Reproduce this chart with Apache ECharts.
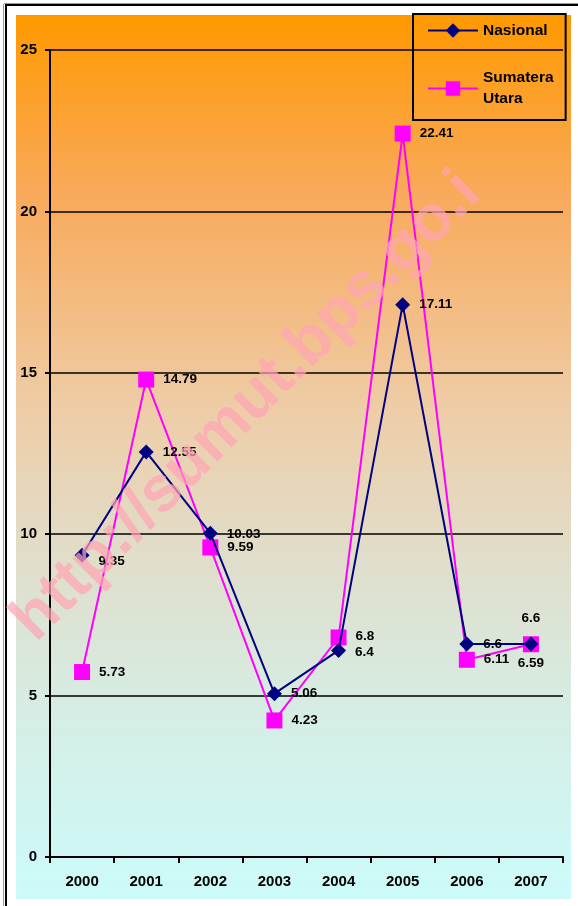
<!DOCTYPE html>
<html>
<head>
<meta charset="utf-8">
<script src="https://cdn.jsdelivr.net/npm/echarts@6/dist/echarts.min.js"></script>
<style>
html,body{margin:0;padding:0;background:#fff;}
#c{width:578px;height:906px;}
</style>
</head>
<body>
<div id="c"></div>
<script>
const categories = ['2000','2001','2002','2003','2004','2005','2006','2007'];
const nasional = [9.35, 12.55, 10.03, 5.06, 6.4, 17.11, 6.6, 6.6];
const sumut = [5.73, 14.79, 9.59, 4.23, 6.8, 22.41, 6.11, 6.59];
const seriesNames = ['Nasional', 'Sumatera Utara'];
const yTicks = [0, 5, 10, 15, 20, 25];

const chart = echarts.init(document.getElementById('c'), null, {renderer: 'canvas'});
const F = 'Liberation Sans, Arial, sans-serif';

const lblBase = {show: true, fontFamily: F, fontWeight: 'bold', fontSize: 13.5, color: '#000', distance: 9};
function natLabel(i) {
  if (i === 7) return {position: 'top', distance: 11};
  if (i === 0) return {position: 'right', offset: [0, 6]};
  if (i === 2) return {position: 'right', offset: [0, 1]};
  if (i === 4) return {position: 'right', offset: [0, 2]};
  return {position: 'right'};
}
function sumLabel(i) {
  if (i === 7) return {position: 'bottom', distance: 4};
  if (i === 4) return {position: 'right', offset: [0, -1]};
  return {position: 'right'};
}

chart.setOption({
  animation: false,
  graphic: [
    {type: 'rect', z: -10, shape: {x: 16, y: 15, width: 555, height: 884},
     style: {fill: new echarts.graphic.LinearGradient(0, 0, 0, 1, [
       {offset: 0, color: '#FF9900'},
       {offset: 0.2, color: '#F9A95A'},
       {offset: 0.45, color: '#EECDA8'},
       {offset: 0.62, color: '#E0DECB'},
       {offset: 0.8, color: '#D5EEE6'},
       {offset: 1, color: '#CCFBFA'}
     ])}},
    {type: 'line', z: -5, shape: {x1: 4, y1: 3.5, x2: 578, y2: 3.5}, style: {stroke: '#999', lineWidth: 1}},
    {type: 'line', z: -5, shape: {x1: 5, y1: 5, x2: 578, y2: 5}, style: {stroke: '#000', lineWidth: 2}},
    {type: 'line', z: -5, shape: {x1: 3.5, y1: 4, x2: 3.5, y2: 906}, style: {stroke: '#999', lineWidth: 1}},
    {type: 'line', z: -5, shape: {x1: 6, y1: 5, x2: 6, y2: 906}, style: {stroke: '#000', lineWidth: 2}},
    {type: 'text', z: 100, x: 247, y: 407, rotation: Math.PI / 4,
     style: {text: 'http://sumut.bps.go.i', fontFamily: F, fontWeight: 'bold', fontSize: 64,
             fill: 'rgba(255,165,180,0.72)', align: 'center', verticalAlign: 'middle'}}
  ],
  legend: {
    orient: 'vertical',
    left: 413, top: 14,
    width: 154,
    padding: [6, 12, 0, 14],
    itemGap: 16,
    itemWidth: 50, itemHeight: 18,
    borderColor: '#000', borderWidth: 2,
    backgroundColor: 'transparent',
    formatter: function (n) { return n === 'Sumatera Utara' ? 'Sumatera\nUtara' : n; },
    textStyle: {fontFamily: F, fontWeight: 'bold', fontSize: 15.5, color: '#000', lineHeight: 21},
    data: [
      {name: seriesNames[0]},
      {name: seriesNames[1], textStyle: {padding: [21, 0, 0, 0]}}
    ]
  },
  grid: {left: 50, right: 15, top: 50, bottom: 49, containLabel: false},
  xAxis: {
    type: 'category', data: categories, boundaryGap: true,
    axisLine: {lineStyle: {color: '#000', width: 2}},
    axisTick: {show: true, length: 6, lineStyle: {color: '#000', width: 2}, alignWithLabel: false},
    axisLabel: {fontFamily: F, fontWeight: 'bold', fontSize: 15, color: '#000', margin: 17}
  },
  yAxis: {
    type: 'value', min: yTicks[0], max: yTicks[yTicks.length - 1], interval: 5,
    axisLine: {show: true, lineStyle: {color: '#000', width: 2}},
    axisTick: {show: true, length: 5, lineStyle: {color: '#000', width: 2}},
    axisLabel: {fontFamily: F, fontWeight: 'bold', fontSize: 15, color: '#000', margin: 13},
    splitLine: {show: true, lineStyle: {color: '#000', width: 1.5}}
  },
  series: [
    {
      name: seriesNames[0], type: 'line', data: nasional.map((v, i) => ({value: v, label: natLabel(i)})),
      symbol: 'diamond', symbolSize: 15, z: 3,
      lineStyle: {color: '#000080', width: 2},
      itemStyle: {color: '#000080'},
      label: lblBase
    },
    {
      name: seriesNames[1], type: 'line', data: sumut.map((v, i) => ({value: v, label: sumLabel(i)})),
      symbol: 'rect', symbolSize: 16, z: 2,
      lineStyle: {color: '#FF00FF', width: 2},
      itemStyle: {color: '#FF00FF'},
      label: lblBase
    }
  ]
});
</script>
</body>
</html>
